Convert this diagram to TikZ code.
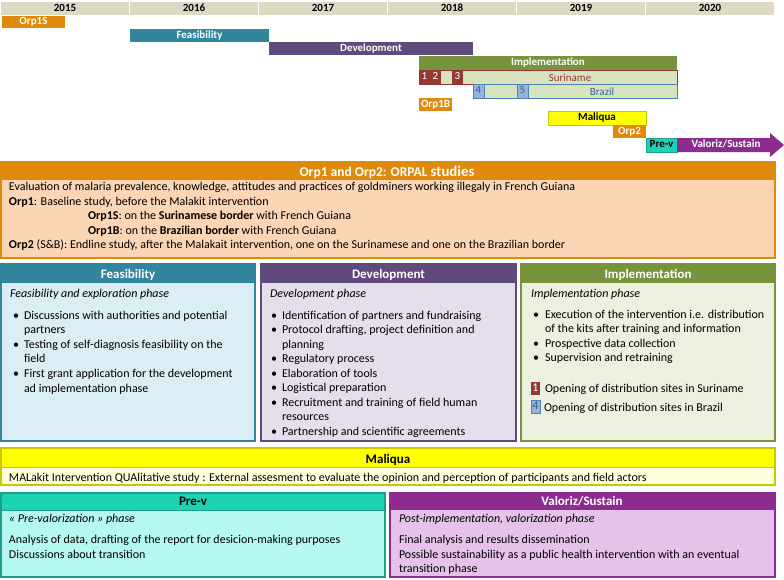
\documentclass[tikz,border=0pt]{standalone}
\usepackage{fontspec}
\setmainfont{Carlito}
\definecolor{yrbg}{HTML}{DDD9C4}
\definecolor{orp}{HTML}{E08A0B}
\definecolor{orpbody}{HTML}{FCD5B4}
\definecolor{feas}{HTML}{31859C}
\definecolor{feasbody}{HTML}{DAEEF3}
\definecolor{dev}{HTML}{604A7B}
\definecolor{devbody}{HTML}{E5DFEC}
\definecolor{impl}{HTML}{77933C}
\definecolor{implbody}{HTML}{EBF1DE}
\definecolor{lgreen}{HTML}{D7E4BD}
\definecolor{dred}{HTML}{953735}
\definecolor{lblue}{HTML}{95B3D7}
\definecolor{mblue}{HTML}{4F81BD}
\definecolor{tblue}{HTML}{376092}
\definecolor{ylw}{HTML}{FFFF00}
\definecolor{ylwline}{HTML}{C8C800}
\definecolor{ylwbody}{HTML}{FFFFDC}
\definecolor{prev}{HTML}{1ED2B4}
\definecolor{prevline}{HTML}{1E9E8C}
\definecolor{prevbody}{HTML}{B4F8F0}
\definecolor{valo}{HTML}{8C2C8F}
\definecolor{valobody}{HTML}{E6C1EA}
\tikzset{
  txt/.style={inner sep=0pt, outer sep=0pt, anchor=base west, font=\fontsize{12}{14.5}\selectfont},
  itxt/.style={txt, font=\fontsize{12}{14.5}\selectfont\itshape},
  ctxt/.style={txt, anchor=base},
  bar/.style={inner sep=0pt, outer sep=0pt, anchor=north west, text height=7.5pt, text depth=2.5pt,
    font=\fontsize{11}{13}\selectfont\bfseries, text=white},
  numbox/.style={bar, font=\fontsize{11}{13}\selectfont, minimum height=14pt},
  yr/.style={bar, fill=yrbg, text=black, minimum width=128pt, minimum height=13pt},
  head/.style={inner sep=0pt, outer sep=0pt, anchor=base, font=\fontsize{13}{15}\selectfont\bfseries},
}
\begin{document}
\begin{tikzpicture}[x=1pt,y=-1pt]
\useasboundingbox[fill=white] (0,0) rectangle (784,579);
% ---------- timeline ----------
\foreach \yy [count=\i from 0] in {2015,2016,2017,2018,2019,2020}
  \node[yr] (y\yy) at ({1+129*\i},2) {\yy};
\node[bar, fill=orp, minimum width=63pt, minimum height=12pt] (tOrpS) at (2,16) {Orp1S};
\node[bar, fill=feas, minimum width=139pt, minimum height=13pt] (tFeas) at (130,29) {Feasibility};
\node[bar, fill=dev, minimum width=204pt, minimum height=13pt] (tDev) at (269,42) {Development};
\node[bar, fill=impl, minimum width=258pt, minimum height=14pt] (tImpl) at (419,56) {Implementation};
% Suriname row
\draw[dred, fill=lgreen, line width=0.8pt] (419,70) rectangle (677,84);
\node[numbox, fill=dred, minimum width=11pt] (s1) at (419,70) {1};
\node[numbox, fill=dred, minimum width=11pt] (s2) at (430,70) {2};
\node[numbox, fill=dred, minimum width=11pt] (s3) at (452,70) {3};
\node[ctxt, text=dred, font=\fontsize{11}{13}\selectfont] (sur) at (570,81) {Suriname};
% Brazil row
\draw[mblue, fill=lgreen, line width=0.8pt] (473,84) rectangle (677,98);
\node[numbox, fill=lblue, draw=mblue, text=tblue, minimum width=11pt] (b4) at (473,84) {4};
\node[numbox, fill=lblue, draw=mblue, text=tblue, minimum width=11pt] (b5) at (517,84) {5};
\node[ctxt, text=tblue, font=\fontsize{11}{13}\selectfont] (bra) at (602,95) {Brazil};
\node[bar, fill=orp, minimum width=33pt, minimum height=13pt] (tOrpB) at (419,98) {Orp1B};
\node[bar, fill=ylw, draw=ylwline, line width=1pt, text=black, minimum width=98pt, minimum height=14pt] (tMal) at (548,111) {Maliqua};
\node[bar, fill=orp, minimum width=33pt, minimum height=13pt] (tOrp2) at (613,125) {Orp2};
\node[bar, fill=prev, draw=prevline, line width=0.6pt, text=black, minimum width=31pt, minimum height=14pt] (tPrev) at (646,138) {Pre-v};
\fill[valo] (677,138) -- (770,138) -- (770,133) -- (784,145) -- (770,157) -- (770,152) -- (677,152) -- cycle;
\node[bar, anchor=center] (tVal) at (726,145) {Valoriz/Sustain};
% ---------- ORPAL box ----------
\fill[orpbody] (1,162) rectangle (775,258);
\fill[orp] (1,162) rectangle (775,180);
\draw[orp, line width=2pt] (1,162) rectangle (775,258);
\node[head, text=white, font=\fontsize{13.5}{15}\selectfont\bfseries] (hOrp) at (387,176.5) {Orp1 and Orp2: ORPAL {\fontsize{14.8}{16}\selectfont studies}};
\node[txt] (o1) at (9,190.5) {Evaluation of malaria prevalence, knowledge, attitudes and practices of goldminers working illegaly in French Guiana};
\node[txt] (o2) at (9,205) {\textbf{Orp1}: Baseline study, before the Malakit intervention};
\node[txt] (o3) at (88,219.5) {\textbf{Orp1S}: on the \textbf{Surinamese border} with French Guiana};
\node[txt] (o4) at (88,234) {\textbf{Orp1B}: on the \textbf{Brazilian border} with French Guiana};
\node[txt] (o5) at (9,248.5) {\textbf{Orp2} (S\&B): Endline study, after the Malakait intervention, one on the Surinamese and one on the Brazilian border};
% ---------- Feasibility box ----------
\fill[feasbody] (1,264) rectangle (255,441);
\fill[feas] (1,264) rectangle (255,283);
\draw[feas, line width=2pt] (1,264) rectangle (255,441);
\node[head, text=white] (hFeas) at (128,278.5) {Feasibility};
\node[itxt] (f0) at (10,297) {Feasibility and exploration phase};
\node[txt] (fb1) at (13,319) {\textbullet};
\node[txt] (f1) at (24,319) {Discussions with authorities and potential};
\node[txt] (f2) at (24,333.6) {partners};
\node[txt] (fb2) at (13,348.2) {\textbullet};
\node[txt] (f3) at (24,348.2) {Testing of self-diagnosis feasibility on the};
\node[txt] (f4) at (24,362.8) {field};
\node[txt] (fb3) at (13,377.4) {\textbullet};
\node[txt] (f5) at (24,377.4) {First grant application for the development};
\node[txt] (f6) at (24,392) {ad implementation phase};
% ---------- Development box ----------
\fill[devbody] (261,264) rectangle (516,441);
\fill[dev] (261,264) rectangle (516,283);
\draw[dev, line width=2pt] (261,264) rectangle (516,441);
\node[head, text=white] (hDev) at (388.5,278.5) {Development};
\node[itxt] (d0) at (270,297) {Development phase};
\node[txt] (db1) at (271,319) {\textbullet};
\node[txt] (d1) at (282,319) {Identification of partners and fundraising};
\node[txt] (db2) at (271,333.5) {\textbullet};
\node[txt] (d2) at (282,333.5) {Protocol drafting, project definition and};
\node[txt] (d3) at (282,348) {planning};
\node[txt] (db3) at (271,362.5) {\textbullet};
\node[txt] (d4) at (282,362.5) {Regulatory process};
\node[txt] (db4) at (271,377) {\textbullet};
\node[txt] (d5) at (282,377) {Elaboration of tools};
\node[txt] (db5) at (271,391.5) {\textbullet};
\node[txt] (d6) at (282,391.5) {Logistical preparation};
\node[txt] (db6) at (271,406) {\textbullet};
\node[txt] (d7) at (282,406) {Recruitment and training of field human};
\node[txt] (d8) at (282,420.5) {resources};
\node[txt] (db7) at (271,435) {\textbullet};
\node[txt] (d9) at (282,435) {Partnership and scientific agreements};
% ---------- Implementation box ----------
\fill[implbody] (521,264) rectangle (775,441);
\fill[impl] (521,264) rectangle (775,283);
\draw[impl, line width=2pt] (521,264) rectangle (775,441);
\node[head, text=white] (hImpl) at (648,278.5) {Implementation};
\node[itxt] (i0) at (531,297) {Implementation phase};
\node[txt] (ib1) at (533,318) {\textbullet};
\node[txt] (i1) at (545,318) {Execution of the intervention i.e. distribution};
\node[txt] (i2) at (545,332.5) {of the kits after training and information};
\node[txt] (ib2) at (533,347) {\textbullet};
\node[txt] (i3) at (545,347) {Prospective data collection};
\node[txt] (ib3) at (533,361.5) {\textbullet};
\node[txt] (i4) at (545,361.5) {Supervision and retraining};
\node[numbox, fill=dred, font=\fontsize{12}{14}\selectfont, minimum width=9pt, minimum height=13pt] (k1) at (531,382) {1};
\node[txt] (i5) at (545,392) {Opening of distribution sites in Suriname};
\node[numbox, fill=lblue, draw=mblue, text=tblue, font=\fontsize{12}{14}\selectfont, minimum width=9pt, minimum height=13pt] (k4) at (531,400.5) {4};
\node[txt] (i6) at (544,411) {Opening of distribution sites in Brazil};
% ---------- Maliqua box ----------
\fill[ylwbody] (1,448) rectangle (775,485);
\fill[ylw] (1,448) rectangle (775,467);
\draw[ylwline, line width=0.8pt] (1,467) -- (775,467);
\draw[ylwline, line width=2.5pt] (1,448) rectangle (775,485);
\node[head, text=black] (hMal) at (388,463.5) {Maliqua};
\node[txt] (m1) at (9,481) {MALakit Intervention QUAlitative study : External assesment to evaluate the opinion and perception of participants and field actors};
% ---------- Pre-v box ----------
\fill[prevbody] (1,493) rectangle (385,577);
\fill[prev] (1,493) rectangle (385,510);
\draw[prevline, line width=0.8pt] (1,510) -- (385,510);
\draw[prevline, line width=2pt] (1,493) rectangle (385,577);
\node[head, text=black] (hPrev) at (193,505.5) {Pre-v};
\node[itxt] (p0) at (9,522) {« Pre-valorization » phase};
\node[txt] (p1) at (9,543) {Analysis of data, drafting of the report for desicion-making purposes};
\node[txt] (p2) at (9,558) {Discussions about transition};
% ---------- Valoriz box ----------
\fill[valobody] (390,493) rectangle (775,577);
\fill[valo] (390,493) rectangle (775,510);
\draw[valo, line width=2pt] (390,493) rectangle (775,577);
\node[head, text=white] (hVal) at (582,505.5) {Valoriz/Sustain};
\node[itxt] (v0) at (399,522) {Post-implementation, valorization phase};
\node[txt] (v1) at (399,543) {Final analysis and results dissemination};
\node[txt] (v2) at (399,558) {Possible sustainability as a public health intervention with an eventual};
\node[txt] (v3) at (399,572.5) {transition phase};
\end{tikzpicture}
\end{document}
